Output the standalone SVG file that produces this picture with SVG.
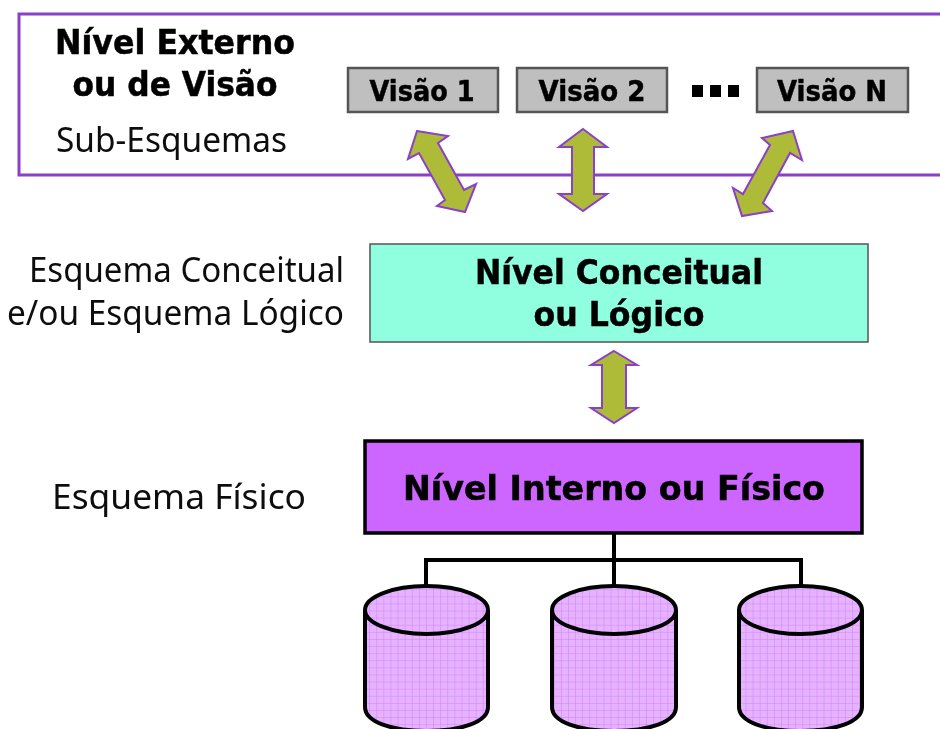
<svg xmlns="http://www.w3.org/2000/svg" width="940" height="729" viewBox="0 0 940 729">
<style>
.b{font-family:"DejaVu Sans",Verdana,sans-serif;font-weight:700;fill:#000;stroke:#000;stroke-width:0.5;text-anchor:middle}
.r{font-family:"Noto Sans","DejaVu Sans",sans-serif;fill:#111}
.arrow{fill:#adbb38;stroke:#8a3fc8;stroke-width:2}
.view{fill:#bfbfbf;stroke:#555;stroke-width:2.5}
.cyl{fill:url(#grid);stroke:#000;stroke-width:4}
.wire{fill:none;stroke:#000;stroke-width:4}
</style>
<defs>
<pattern id="grid" width="7.1" height="7.1" patternUnits="userSpaceOnUse">
<rect width="7.1" height="7.1" fill="#e6b3ff"/>
<path d="M0 0H7.1M0 0V7.1" stroke="#d27cff" stroke-width="1" fill="none"/>
</pattern>
<filter id="soft" x="-2%" y="-2%" width="104%" height="104%"><feGaussianBlur stdDeviation="0.5"/></filter>
</defs>
<rect width="940" height="729" fill="#fff"/>
<g filter="url(#soft)">
<g id="external">
<path d="M940 14H19V175H940" fill="none" stroke="#8a3fc8" stroke-width="3"/>
<text class="b" x="175" y="54" font-size="33" textLength="240" lengthAdjust="spacingAndGlyphs">Nível Externo</text>
<text class="b" x="175" y="96" font-size="33" textLength="205" lengthAdjust="spacingAndGlyphs">ou de Visão</text>
<text class="r" x="56" y="152" font-size="34" textLength="231" lengthAdjust="spacingAndGlyphs">Sub-Esquemas</text>
</g>
<g id="view1"><rect class="view" x="348" y="68" width="150" height="44"/><text class="b" x="422" y="101" font-size="29" textLength="105" lengthAdjust="spacingAndGlyphs">Visão 1</text></g>
<g id="view2"><rect class="view" x="517" y="68" width="150" height="44"/><text class="b" x="592" y="101" font-size="29" textLength="107" lengthAdjust="spacingAndGlyphs">Visão 2</text></g>
<g id="dots"><path d="M692 85h11v12h-11zM710 85h11v12h-11zM728 85h11v12h-11z" fill="#000"/></g>
<g id="viewN"><rect class="view" x="757" y="68" width="151" height="44"/><text class="b" x="832" y="101" font-size="29" textLength="110" lengthAdjust="spacingAndGlyphs">Visão N</text></g>
<g id="connectors">
<path class="arrow" d="M417 131L448 136L438 143L464 190L476 184L465 212L437 206L445 200L419 153L408 159Z"/>
<path class="arrow" d="M583 129L607 147H594V194H607L583 211L559 194H572V147H559Z"/>
<path class="arrow" d="M793 131L802 160L790 153L763 203L772 211L742 216L733 188L743 194L770 145L762 138Z"/>
<path class="arrow" d="M614 351L637 365H626V408H637L614 423L591 408H602V365H591Z"/>
<path class="wire" d="M614 533V586M426 586V560H801V586"/>
</g>
<g id="conceptual">
<rect x="370" y="244" width="498" height="98" fill="#8fffe0" stroke="#555" stroke-width="1.5"/>
<text class="b" x="619" y="284" font-size="33" textLength="288" lengthAdjust="spacingAndGlyphs">Nível Conceitual</text>
<text class="b" x="619" y="326" font-size="33" textLength="171" lengthAdjust="spacingAndGlyphs">ou Lógico</text>
</g>
<text class="r" x="344" y="282" font-size="34" text-anchor="end" textLength="315" lengthAdjust="spacingAndGlyphs">Esquema Conceitual</text>
<text class="r" x="344" y="325" font-size="34" text-anchor="end" textLength="337" lengthAdjust="spacingAndGlyphs">e/ou Esquema Lógico</text>
<g id="internal">
<rect x="365" y="441" width="497" height="92" fill="#cc66ff" stroke="#000" stroke-width="3.5"/>
<text class="b" x="614" y="500" font-size="33" textLength="422" lengthAdjust="spacingAndGlyphs">Nível Interno ou Físico</text>
</g>
<text class="r" x="52" y="509" font-size="34" textLength="254" lengthAdjust="spacingAndGlyphs">Esquema Físico</text>
<g id="db1"><path class="cyl" d="M365 610V707C365 722 392 731 426.500 731S488 722 488 707V610"/><ellipse class="cyl" cx="426.500" cy="610" rx="61.500" ry="24"/></g>
<g id="db2"><path class="cyl" d="M552 610V707C552 722 579 731 614 731S676 722 676 707V610"/><ellipse class="cyl" cx="614" cy="610" rx="62" ry="24"/></g>
<g id="db3"><path class="cyl" d="M739 610V707C739 722 766 731 800.500 731S862 722 862 707V610"/><ellipse class="cyl" cx="800.500" cy="610" rx="61.500" ry="24"/></g>
</g>
</svg>
